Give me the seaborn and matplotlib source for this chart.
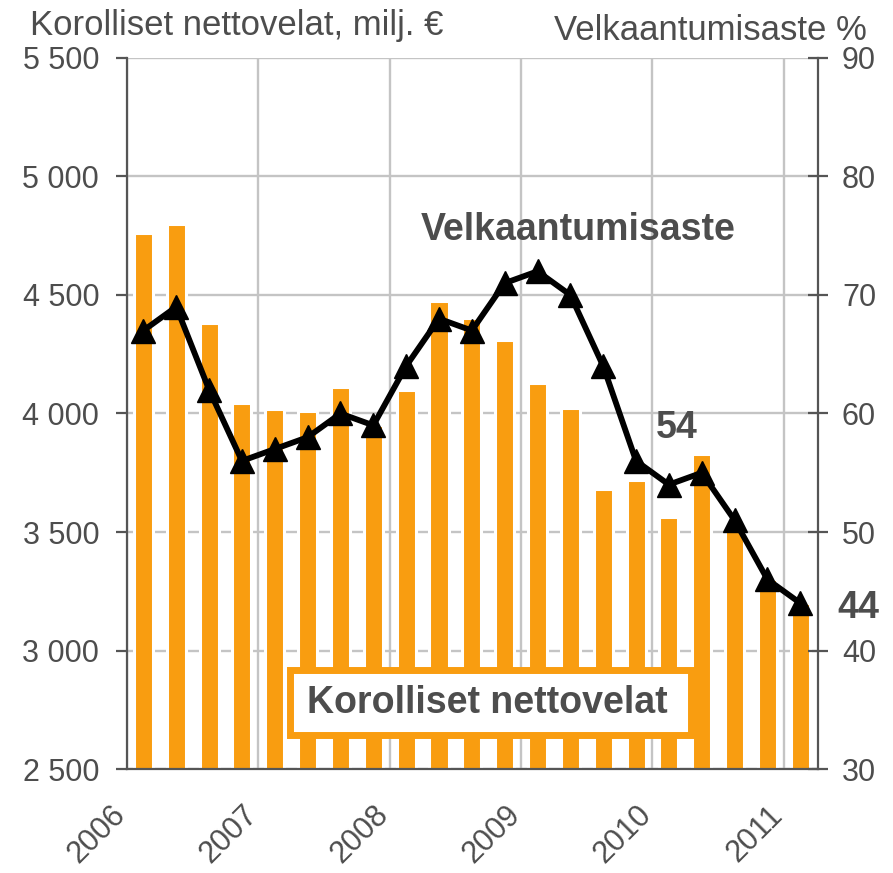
import numpy as np
import matplotlib
matplotlib.use("Agg")
import matplotlib.pyplot as plt
from matplotlib.patches import Rectangle
import seaborn as sns

# Data (quarterly, 2006Q1 - 2011Q1)
quarters = [f"{y}Q{q}" for y in range(2006, 2012) for q in range(1, 5)][:21]
net_debt = [4760, 4800, 4380, 4045, 4020, 4010, 4110, 3950, 4100, 4475, 4405,
            4310, 4130, 4025, 3680, 3720, 3565, 3830, 3530, 3300, 3200]
gearing = [67, 69, 62, 56, 57, 58, 60, 59, 64, 68, 67,
           71, 72, 70, 64, 56, 54, 55, 51, 46, 44]
years = ["2006", "2007", "2008", "2009", "2010", "2011"]

orange = "#F99D10"
grey_txt = "#4d4d4d"
spine_c = "#555555"
sns.set_style("white")
plt.rcParams["font.family"] = ["Liberation Sans", "DejaVu Sans"]

fig = plt.figure(figsize=(8.93, 8.73), dpi=100)
ax = fig.add_axes([0.1422, 0.1191, 0.9160 - 0.1422, 0.9336 - 0.1191])

# bars with a thin white edge, so the grid stops just short of each bar
sns.barplot(x=quarters, y=net_debt, color=orange, width=0.58, ax=ax,
            saturation=1, edgecolor="white", linewidth=2.2, zorder=2)
ax.set_ylim(2500, 5500)
ax.set_xlim(-0.5, 20.54)
ax.set_yticks(range(2500, 5501, 500))
ax.set_yticklabels([f"{v:,}".replace(",", " ") for v in range(2500, 5501, 500)])
year_pos = [4 * i - 0.5 for i in range(len(years))]
ax.set_xticks(year_pos)
ax.set_xticklabels(years, rotation=45, ha="right", va="baseline",
                   rotation_mode="anchor")
ax.grid(True, color="#c4c4c4", lw=1.7, zorder=0)
ax.set_axisbelow(True)

ax2 = ax.twinx()
sns.lineplot(x=np.arange(len(gearing)), y=gearing, ax=ax2, color="black",
             lw=4.2, marker="^", markersize=17, markeredgecolor="black",
             markeredgewidth=1, zorder=5)
ax2.set_ylim(30, 90)
ax2.set_yticks(range(30, 91, 10))
ax2.set_xlim(-0.5, 20.54)

for a in (ax, ax2):
    a.spines["top"].set_visible(False)
    for s in ("left", "right", "bottom"):
        a.spines[s].set_color(spine_c)
        a.spines[s].set_linewidth(1.6)
    a.tick_params(axis="both", direction="out", length=8, width=1.6,
                  color=spine_c, labelsize=22, labelcolor=grey_txt)
ax.spines["right"].set_visible(False)
ax2.spines["left"].set_visible(False)
ax2.spines["bottom"].set_visible(False)
ax.tick_params(axis="y", pad=12)
ax.tick_params(axis="x", pad=26, labelsize=22)
ax2.tick_params(axis="y", direction="inout", length=14.5, pad=10)
ax.set_xlabel("")
ax.set_ylabel("")
ax2.set_ylabel("")

ax2.text(13.23, 74.64, "Velkaantumisaste", fontsize=27, fontweight="bold",
         color=grey_txt, ha="center", va="baseline")
ax2.text(16.24, 57.93, "54", fontsize=27, fontweight="bold",
         color=grey_txt, ha="center", va="baseline")
ax2.text(21.78, 42.74, "44", fontsize=27, fontweight="bold",
         color=grey_txt, ha="center", va="baseline", clip_on=False)

# legend-like box for the bars
box = Rectangle((0.2366, 0.0485), 0.5803, 0.0914, transform=ax.transAxes,
                fc="white", ec=orange, lw=5, zorder=9)
ax2.add_patch(box)
ax2.text(10.47, 34.73, "Korolliset nettovelat", fontsize=27, fontweight="bold",
         color=grey_txt, ha="center", va="baseline", zorder=10)

fig.text(30 / 893, 1 - 35 / 873, "Korolliset nettovelat, milj. €", fontsize=25,
         color=grey_txt, ha="left", va="baseline")
fig.text(867 / 893, 1 - 40 / 873, "Velkaantumisaste %", fontsize=25,
         color=grey_txt, ha="right", va="baseline")

fig.savefig("out.png", dpi=100)
